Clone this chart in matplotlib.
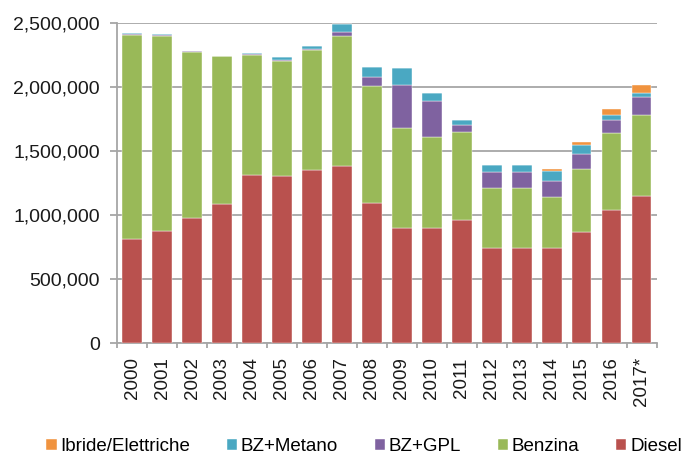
import matplotlib
matplotlib.use("Agg")
import matplotlib.pyplot as plt
from matplotlib.ticker import FuncFormatter
import numpy as np

years = ["2000", "2001", "2002", "2003", "2004", "2005", "2006", "2007", "2008",
         "2009", "2010", "2011", "2012", "2013", "2014", "2015", "2016", "2017*"]
diesel = [811000, 873000, 974000, 1083000, 1313000, 1306000, 1350000, 1386000, 1091000,
          899000, 896000, 961000, 743000, 745000, 746000, 870000, 1036000, 1150000]
benzina = [1596000, 1527000, 1301000, 1154000, 939000, 899000, 938000, 1008000, 912000,
           780000, 711000, 684000, 467000, 465000, 394000, 493000, 602000, 633000]
gpl = [6000, 4000, 2000, 2000, 4000, 4000, 6000, 31000, 72000,
       338000, 279000, 55000, 127000, 128000, 124000, 117000, 101000, 135000]
metano = [8000, 9000, 6000, 3000, 9000, 22000, 28000, 65000, 78000,
          131000, 68000, 39000, 57000, 56000, 76000, 67000, 44000, 31000]
ibride = [0, 0, 0, 0, 0, 0, 0, 0, 0,
          0, 0, 0, 0, 0, 18000, 26000, 41000, 64000]

series = [("Diesel", diesel, "#B9514E"),
          ("Benzina", benzina, "#99B958"),
          ("BZ+GPL", gpl, "#7F62A0"),
          ("BZ+Metano", metano, "#4AA8C2"),
          ("Ibride/Elettriche", ibride, "#F0933F")]

plt.rcParams['font.family'] = ['Liberation Sans', 'DejaVu Sans']
fig = plt.figure(figsize=(6.9, 4.54), dpi=100)
ax = fig.add_axes([0.1696, 0.2438, 0.952 - 0.1696, 0.95 - 0.2438])

x = np.arange(len(years))
bottom = np.zeros(len(years))
handles = {}
for name, vals, col in series:
    v = np.array(vals, dtype=float)
    h = ax.bar(x, v, bottom=bottom, width=0.64, color=col, label=name, zorder=3,
               edgecolor='white', linewidth=0.3)
    handles[name] = h
    bottom += v

ax.set_xlim(-0.5, len(years) - 0.5)
ax.set_ylim(0, 2500000)
ax.set_yticks(np.arange(0, 2500001, 500000))
ax.yaxis.set_major_formatter(FuncFormatter(lambda v, p: f"{int(v):,}"))
ax.grid(axis='y', color='#A6A6A6', linewidth=1.3, zorder=0)
ax.set_axisbelow(True)

for s in ['top', 'right']:
    ax.spines[s].set_visible(False)
for s in ['left', 'bottom']:
    ax.spines[s].set_color('#A6A6A6')
    ax.spines[s].set_linewidth(1.3)

ax.set_xticks(x)
ax.set_xticklabels(years, rotation=90, fontsize=13.5, color='#1a1a1a')
ax.tick_params(axis='x', length=0, pad=10)
ax.set_xticks(np.arange(-0.5, len(years)), minor=True)
ax.tick_params(axis='x', which='minor', length=3.5, color='#A6A6A6', width=1.3)
ax.tick_params(axis='y', labelsize=14, length=5, color='#A6A6A6', width=1.3,
               labelcolor='#1a1a1a', pad=7.5)

order = ["Ibride/Elettriche", "BZ+Metano", "BZ+GPL", "Benzina", "Diesel"]
fig.legend([handles[n] for n in order], order, loc='center', ncol=5,
           bbox_to_anchor=(0.5275, 0.016), frameon=False, fontsize=13.5,
           handlelength=0.55, handleheight=0.55, handletextpad=0.2,
           columnspacing=1.95, borderpad=0, borderaxespad=0)

fig.savefig("out.png", dpi=100)
